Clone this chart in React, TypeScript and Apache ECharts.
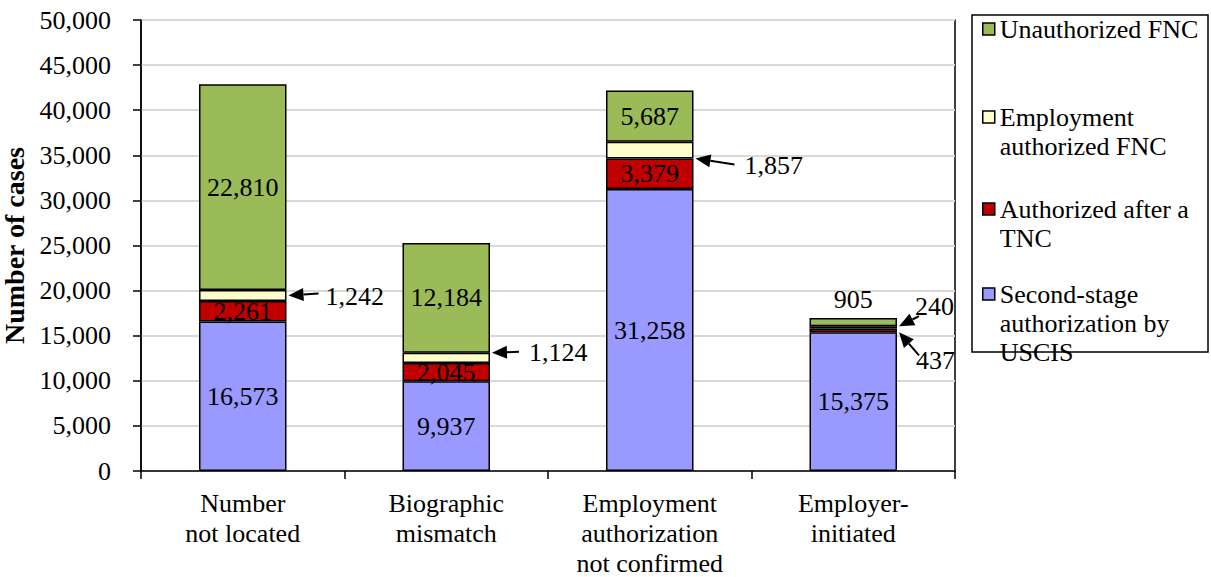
import React, { useEffect, useRef } from 'react';
import * as echarts from 'echarts';

const categories = ['Number\nnot located', 'Biographic\nmismatch', 'Employment\nauthorization\nnot confirmed', 'Employer-\ninitiated'];
const seriesNames = ['Second-stage authorization by USCIS', 'Authorized after a TNC', 'Employment authorized FNC', 'Unauthorized FNC'];
const legendLabels = ['Second-stage\nauthorization by\nUSCIS', 'Authorized after a\nTNC', 'Employment\nauthorized FNC', 'Unauthorized FNC'];
const secondStage = [16573, 9937, 31258, 15375];
const afterTnc = [2261, 2045, 3379, 437];
const empAuthFnc = [1242, 1124, 1857, 240];
const unauthFnc = [22810, 12184, 5687, 905];
const yMin = 0;
const yMax = 50000;
const yInterval = 5000;
const yTitle = 'Number of cases';

// how each value is labelled: in = inside the bar, top = above, call = arrow callout
const labelModes = [
  ['in', 'in', 'in', 'in'],
  ['in', 'in', 'in', 'call'],
  ['call', 'call', 'call', 'call'],
  ['in', 'in', 'in', 'top'],
];

const seriesValues = [secondStage, afterTnc, empAuthFnc, unauthFnc];
const colors = ['#9999FF', '#C00000', '#FFFFCC', '#9BBB59'];
const FONT = "'Liberation Serif', 'Times New Roman', serif";
const FS = 26;
const LH = 30;
const LEG_LH = 29;

// callout layout (pixel offsets relative to the arrow tip)
const callouts = [
  { s: 2, c: 0, anchor: 0.5, tail: [30, -2], text: [37, 1] },
  { s: 2, c: 1, anchor: 1.0, tail: [27, -1], text: [37, 0] },
  { s: 2, c: 2, anchor: 0.0, tail: [39, 6], text: [49, 7] },
  { s: 2, c: 3, anchor: 1.0, tail: [20, -10], text: [16, -20] },
  { s: 1, c: 3, anchor: 0.0, tail: [20, 23], text: [17, 28] },
];

const legendOrder = [3, 2, 1, 0];
const legendIconCenters = [29, 117, 209, 294];
const BAR_FRAC = 0.43;

const fmt = (v: number) => v.toLocaleString('en-US');

export default function App() {
  const ref = useRef<HTMLDivElement>(null);
  useEffect(() => {
    if (!ref.current) return;
    const chart = echarts.init(ref.current, undefined, { renderer: 'svg' });

    const series = seriesValues.map((vals, s) => ({
      type: 'bar',
      name: seriesNames[s],
      stack: 'total',
      barWidth: BAR_FRAC * 100 + '%',
      itemStyle: { color: colors[s], borderColor: '#000', borderWidth: 1.5 },
      data: vals.map((v, c) => {
        const mode = labelModes[s][c];
        return {
          value: v,
          label: {
            show: mode === 'in' || mode === 'top',
            position: mode === 'top' ? 'top' : 'inside',
            distance: 6,
            formatter: () => fmt(v),
            color: '#000',
            fontSize: FS,
            fontFamily: FONT,
          },
        };
      }),
    }));

    // one legend per entry so that the marker sits beside the first text line
    const legends = legendOrder.map((si, k) => {
      const lines = legendLabels[si].split('\n');
      const n = lines.length;
      const padded = new Array(n - 1).fill(' ').concat(lines).join('\n');
      return {
        orient: 'vertical',
        left: 982,
        top: legendIconCenters[k] - ((2 * n - 1) * LEG_LH) / 2,
        padding: 0,
        selectedMode: false,
        itemWidth: 12,
        itemHeight: 12,
        icon: 'rect',
        itemStyle: { borderColor: '#000', borderWidth: 1.5 },
        formatter: () => padded,
        textStyle: {
          fontSize: FS,
          fontFamily: FONT,
          color: '#000',
          lineHeight: LEG_LH,
        },
        data: [seriesNames[si]],
      };
    });

    chart.setOption({
      animation: false,
      textStyle: { fontFamily: FONT },
      grid: {
        left: 141,
        top: 20,
        right: 256,
        bottom: 106,
        show: true,
        borderColor: '#000',
        borderWidth: 1.5,
        outerBoundsMode: 'none',
        containLabel: false,
      },
      legend: legends,
      xAxis: {
        type: 'category',
        data: categories,
        axisLine: { lineStyle: { color: '#000', width: 1.5 } },
        axisTick: { show: true, length: 8, lineStyle: { color: '#000', width: 1.5 } },
        axisLabel: { interval: 0, color: '#000', fontSize: FS, fontFamily: FONT, lineHeight: LH, margin: 17 },
      },
      yAxis: {
        type: 'value',
        min: yMin,
        max: yMax,
        interval: yInterval,
        name: yTitle,
        nameLocation: 'middle',
        nameRotate: 90,
        nameGap: 91,
        nameTextStyle: { fontSize: 28, fontWeight: 'bold', fontFamily: FONT, color: '#000' },
        axisLine: { show: true, lineStyle: { color: '#000', width: 1.5 } },
        axisTick: { show: true, length: 8, lineStyle: { color: '#000', width: 1.5 } },
        axisLabel: { color: '#000', fontSize: FS, fontFamily: FONT, margin: 30, formatter: (v: number) => fmt(v) },
        splitLine: { lineStyle: { color: '#d9d9d9', width: 2 } },
      },
      series,
    });

    // callouts computed from data via the chart's own scales
    const graphics: any[] = [
      { type: 'rect', shape: { x: 972, y: 15, width: 236, height: 337 }, style: { fill: 'none', stroke: '#000', lineWidth: 1.5 } },
    ];
    const p0 = chart.convertToPixel({ gridIndex: 0 }, [0, 0]) as number[];
    const p1 = chart.convertToPixel({ gridIndex: 0 }, [1, 0]) as number[];
    const band = p1[0] - p0[0];
    const barW = band * BAR_FRAC;
    callouts.forEach((co) => {
      let base = 0;
      for (let s = 0; s < co.s; s++) base += seriesValues[s][co.c];
      const val = seriesValues[co.s][co.c];
      const target = base + val * co.anchor;
      const pt = chart.convertToPixel({ gridIndex: 0 }, [co.c, target]) as number[];
      const tipX = pt[0] + barW / 2 + 2;
      const tipY = pt[1];
      const tailX = tipX + co.tail[0];
      const tailY = tipY + co.tail[1];
      const dx = tipX - tailX;
      const dy = tipY - tailY;
      const len = Math.sqrt(dx * dx + dy * dy);
      const ux = dx / len;
      const uy = dy / len;
      const headL = 15;
      const headW = 6.5;
      const bx = tipX - ux * headL;
      const by = tipY - uy * headL;
      graphics.push({
        type: 'line',
        shape: { x1: tailX, y1: tailY, x2: bx, y2: by },
        style: { stroke: '#000', lineWidth: 2 },
      });
      graphics.push({
        type: 'polygon',
        shape: { points: [[tipX, tipY], [bx - uy * headW, by + ux * headW], [bx + uy * headW, by - ux * headW]] },
        style: { fill: '#000' },
      });
      graphics.push({
        type: 'text',
        x: tipX + co.text[0],
        y: tipY + co.text[1],
        style: { text: fmt(val), fontSize: FS, fontFamily: FONT, fill: '#000', align: 'left', verticalAlign: 'middle' },
      });
    });
    chart.setOption({ graphic: graphics });

    return () => chart.dispose();
  }, []);
  return <div ref={ref} style={{ position: 'absolute', left: 0, top: 0, width: 1211, height: 577 }} />;
}
